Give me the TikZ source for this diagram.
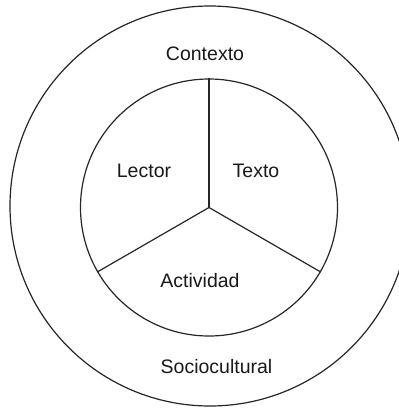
\documentclass[tikz,border=0pt]{standalone}
\usepackage{fontspec}
\setmainfont{Liberation Sans}
\begin{document}
\begin{tikzpicture}[x=1pt,y=-1pt,
  ring/.style={draw=black!85,line width=1.2pt,circle,inner sep=0pt},
  lbl/.style={anchor=base,inner sep=0pt,font=\fontsize{19.5}{22}\selectfont,text=black!90},
  spoke/.style={draw=black!85,line width=1.2pt}]
\useasboundingbox (0,0) rectangle (399,408);
\clip (0,0) rectangle (399,408);
\fill[white] (0,0) rectangle (399,408);
\node[ring,minimum size=400pt] (outer) at (210,206) {};
\node[ring,minimum size=257pt] (inner) at (209,207.5) {};
\coordinate (c) at (209,207.5);
\draw[spoke] (c) -- (inner.90);
\draw[spoke] (c) -- (inner.210);
\draw[spoke] (c) -- (inner.330);
\node[lbl] (contexto) at (205,60) {Contexto};
\node[lbl] (lector) at (144,177.7) {Lector};
\node[lbl] (texto) at (256,177.7) {Texto};
\node[lbl] (actividad) at (200,287.3) {Actividad};
\node[lbl] (socio) at (216.5,373.3) {Sociocultural};
\end{tikzpicture}
\end{document}
